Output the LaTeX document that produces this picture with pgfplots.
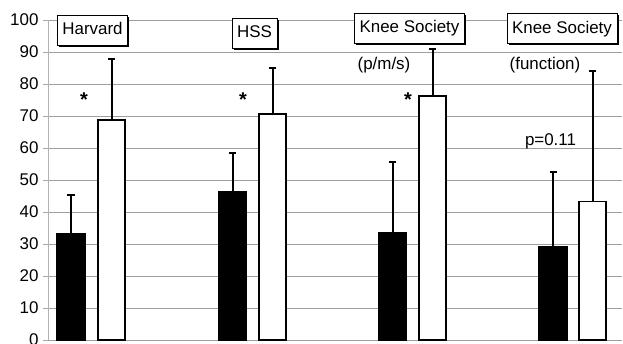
\documentclass[border=0pt]{standalone}
\usepackage{fontspec}
\setmainfont{Liberation Sans}
\usepackage{pgfplots}
\pgfplotsset{compat=1.18}
\usetikzlibrary{shadows,calc}
\begin{document}
\begin{tikzpicture}[
  box/.style={draw=black, fill=white, line width=0.8bp, inner xsep=5bp, inner ysep=7bp,
    text height=12.5bp, text depth=3.5bp, font=\fontsize{17}{20}\selectfont,
    drop shadow={shadow xshift=1.8bp, shadow yshift=-1.8bp, opacity=1, fill=black}},
  lab/.style={font=\fontsize{17}{20}\selectfont, inner sep=0pt},
]
\begin{axis}[
  scale only axis, width=574bp, height=320bp,
  xmin=48, xmax=622, ymin=0, ymax=100,
  separate axis lines,
  axis x line=none, axis y line*=left,
  y axis line style={gray!60, -, line width=0.8bp},
  ytick={0,10,...,100},
  tick align=outside, major tick length=5bp,
  ytick style={gray!70, line width=0.8bp},
  ymajorgrids, grid style={gray!75, line width=0.8bp},
  yticklabel style={font=\fontsize{17}{20}\selectfont, xshift=-1bp},
  /pgf/number format/assume math mode=true,
  clip=false,
  eb/.style={error bars/.cd, y dir=plus, y explicit,
    error bar style={line width=2bp, draw=black},
    error mark options={rotate=90, mark size=3.5bp, line width=2bp, draw=black}},
]
\addplot[ybar, bar width=28, bar shift=0pt, fill=black, draw=black, line width=1.2bp, eb]
  coordinates {(71,33.1) +- (0,12.2) (232.5,46.3) +- (0,12.2) (392.5,33.6) +- (0,22.1) (553,29.3) +- (0,23.3)};
\addplot[ybar, bar width=27, bar shift=0pt, fill=white, draw=black, line width=1.4bp, eb]
  coordinates {(111.5,68.8) +- (0,19.0) (272.5,70.6) +- (0,14.5) (432.5,76.3) +- (0,14.5) (592.5,43.2) +- (0,40.8)};

\node[box] at (axis cs:92.5,96.9) {Harvard};
\node[box] at (axis cs:254.5,95.9) {HSS};
\node[box] at (axis cs:409.5,97.5) {Knee Society};
\node[box] at (axis cs:562,97.3) {Knee Society};
\node[lab] at (axis cs:384,85.9) {(p/m/s)};
\node[lab] at (axis cs:545,85.8) {(function)};
\node[lab] at (axis cs:550.5,62.2) {p=0.11};
\node[lab, font=\fontsize{20}{20}\selectfont\bfseries] at (axis cs:84,75) {*};
\node[lab, font=\fontsize{20}{20}\selectfont\bfseries] at (axis cs:243,75) {*};
\node[lab, font=\fontsize{20}{20}\selectfont\bfseries] at (axis cs:408,75) {*};
\end{axis}
\pgfresetboundingbox
\path ($(current axis.south west)+(-48bp,-4bp)$) rectangle ($(current axis.north east)+(1bp,20bp)$);
\end{tikzpicture}
\end{document}
